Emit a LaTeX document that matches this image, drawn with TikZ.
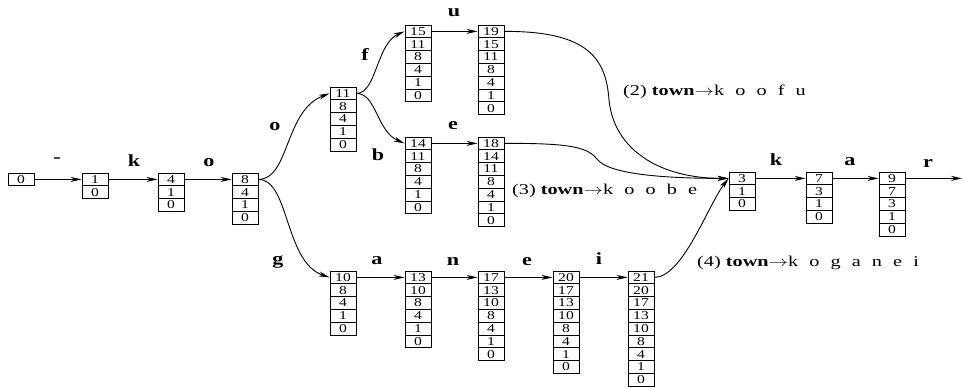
\documentclass[tikz,border=0pt]{standalone}
\usepackage{fontspec}
\setmainfont{Liberation Serif}
\usetikzlibrary{arrows.meta}
\newcommand\wide[1]{\scalebox{1.3}[1]{#1}}
\newcommand\widenote[1]{\scalebox{1.35}[1]{#1}}
\newcommand\gp{\hspace{0.55em}}
\newcommand\cellstack[4]{%
  \foreach \v [count=\i] in {#4} {%
    \node[cell] (#1-\i) at ({#2+13},{#3+6.4+12.8*(\i-1)}) {\wide{\v}};
  }}
\begin{document}
\begin{tikzpicture}[x=1pt,y=-1pt,
  cell/.style={draw,line width=0.9pt,minimum width=26pt,minimum height=12.8pt,inner sep=0pt,font=\fontsize{12}{12}\selectfont},
  lab/.style={font=\fontsize{17}{17}\selectfont\bfseries,inner sep=0pt},
  conn/.style={line width=0.9pt,-{Stealth[length=11pt,width=5pt]}},
  note/.style={font=\fontsize{15}{15}\selectfont,anchor=west,inner sep=0pt}]
\useasboundingbox (0,0) rectangle (964,388);
% stacks
\cellstack{s0}{8}{173}{0}
\cellstack{s1}{82}{173}{1,0}
\cellstack{s2}{158}{173}{4,1,0}
\cellstack{s3}{232}{173}{8,4,1,0}
\cellstack{s4}{330}{87}{11,8,4,1,0}
\cellstack{s5}{405}{25}{15,11,8,4,1,0}
\cellstack{s6}{478}{25}{19,15,11,8,4,1,0}
\cellstack{s7}{405}{137}{14,11,8,4,1,0}
\cellstack{s8}{478}{137}{18,14,11,8,4,1,0}
\cellstack{b1}{330}{271}{10,8,4,1,0}
\cellstack{b2}{405}{271}{13,10,8,4,1,0}
\cellstack{b3}{478}{271}{17,13,10,8,4,1,0}
\cellstack{b4}{553}{271}{20,17,13,10,8,4,1,0}
\cellstack{b5}{628}{271}{21,20,17,13,10,8,4,1,0}
\cellstack{r1}{729}{172}{3,1,0}
\cellstack{r2}{806}{172}{7,3,1,0}
\cellstack{r3}{879}{172}{9,7,3,1,0}
\coordinate (out) at (962,178.4);
% edge labels
\node[lab] (l1) at (57,160) {\wide{-}};
\node[lab] (l2) at (134,161) {\wide{k}};
\node[lab] (l3) at (209,163) {\wide{o}};
\node[lab] (l4) at (275,127) {\wide{o}};
\node[lab] (l5) at (365,55) {\wide{f}};
\node[lab] (l6) at (454,13) {\wide{u}};
\node[lab] (l7) at (378,155) {\wide{b}};
\node[lab] (l8) at (453,126) {\wide{e}};
\node[lab] (l9) at (278,262) {\wide{g}};
\node[lab] (l10) at (377,261) {\wide{a}};
\node[lab] (l11) at (453,261) {\wide{n}};
\node[lab] (l12) at (527,262) {\wide{e}};
\node[lab] (l13) at (599,259) {\wide{i}};
\node[lab] (l14) at (776,160) {\wide{k}};
\node[lab] (l15) at (850,162) {\wide{a}};
\node[lab] (l16) at (928,163) {\wide{r}};
% notes
\node[note] (n2) at (623,92) {\widenote{(2) \textbf{town}$\rightarrow$k\gp o\gp o\gp f\gp u}};
\node[note] (n3) at (512,191) {\widenote{(3) \textbf{town}$\rightarrow$k\gp o\gp o\gp b\gp e}};
\node[note] (n4) at (697,263) {\widenote{(4) \textbf{town}$\rightarrow$k\gp o\gp g\gp a\gp n\gp e\gp i}};
% connectors
\draw[conn] (s0-1) -- (s1-1);
\draw[conn] (s1-1) -- (s2-1);
\draw[conn] (s2-1) -- (s3-1);
\draw[conn] (s3-1.east) .. controls +(31,0) and +(-45,17) .. (s4-1.west);
\draw[conn] (s3-1.east) .. controls +(31,0) and +(-45,-15) .. (b1-1.west);
\draw[conn] (s4-1.east) .. controls +(20,0) and +(-28,12) .. (s5-1.west);
\draw[conn] (s4-1.east) .. controls +(20,0) and +(-28,-12) .. (s7-1.west);
\draw[conn] (s5-1) -- (s6-1);
\draw[conn] (s7-1) -- (s8-1);
\draw[conn] (b1-1) -- (b2-1);
\draw[conn] (b2-1) -- (b3-1);
\draw[conn] (b3-1) -- (b4-1);
\draw[conn] (b4-1) -- (b5-1);
\draw[conn] (s6-1.east) .. controls (590,31) and (606,60) .. (609,100) .. controls (614,150) and (660,178.4) .. (r1-1.west);
\draw[conn] (s8-1.east) .. controls (575,143) and (588,148) .. (598,160) .. controls (608,172) and (650,178.4) .. (r1-1.west);
\draw[conn] (b5-1.east) .. controls (683,277) and (708,205) .. (r1-1.west);
\draw[conn] (r1-1) -- (r2-1);
\draw[conn] (r2-1) -- (r3-1);
\draw[conn] (r3-1) -- (out);
\end{tikzpicture}
\end{document}
